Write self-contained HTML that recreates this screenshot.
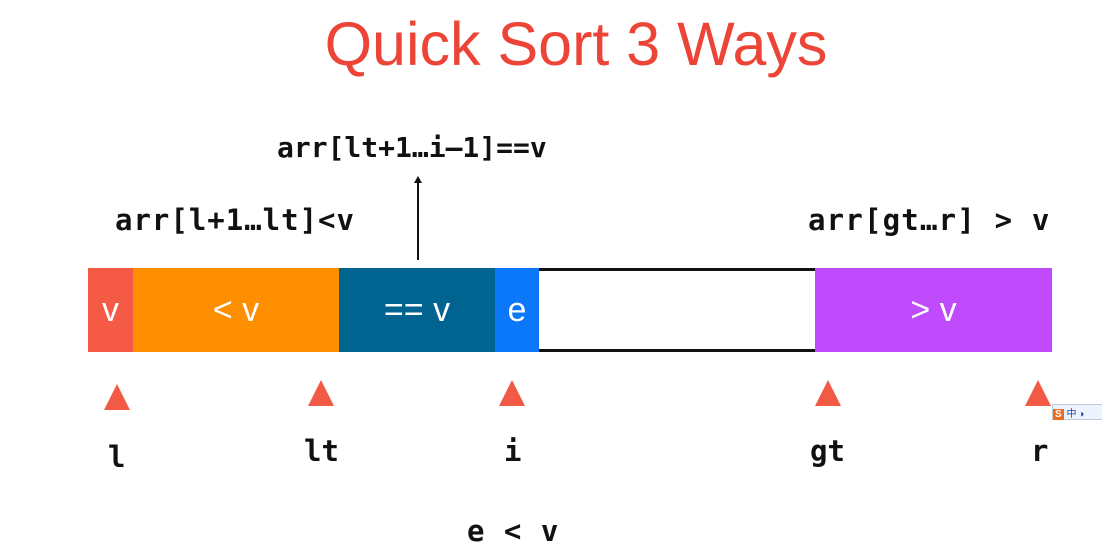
<!DOCTYPE html>
<html><head><meta charset="utf-8"><style>
body{margin:0;width:1102px;height:554px;background:#fff;position:relative;overflow:hidden;font-family:"Liberation Sans",sans-serif}
.a{position:absolute}
.mono{font-family:"DejaVu Sans Mono","Liberation Mono",monospace;font-weight:bold;font-size:29px;color:#111;white-space:nowrap}
.seg{position:absolute;top:268px;height:84px;color:#fff;font-size:34px;display:flex;align-items:center;justify-content:center;font-family:"Liberation Sans",sans-serif}
.tri{position:absolute;top:380px;width:0;height:0;border-left:13px solid transparent;border-right:13px solid transparent;border-bottom:26px solid #f25a45}
</style></head><body>
<div class="a" style="left:0;width:1152px;top:9px;text-align:center;font-size:61px;color:#ec4538">Quick Sort 3 Ways</div>
<div class="a mono" style="left:277px;top:131px;font-size:28px">arr[lt+1…i–1]==v</div>
<div class="a" style="left:417px;top:180px;width:1.5px;height:80px;background:#111"></div>
<div class="a" style="left:414px;top:176px;width:0;height:0;border-left:4px solid transparent;border-right:4px solid transparent;border-bottom:7px solid #111"></div>
<div class="a mono" style="left:115px;top:203px;letter-spacing:1px">arr[l+1…lt]&lt;v</div>
<div class="a mono" style="left:808px;top:203px;letter-spacing:1.2px">arr[gt…r] &gt; v</div>
<div class="seg" style="left:88px;width:45px;background:#f45a45">v</div>
<div class="seg" style="left:133px;width:206px;background:#fd8e00">&lt; v</div>
<div class="seg" style="left:339px;width:156px;background:#01638f">== v</div>
<div class="seg" style="left:495px;width:44px;background:#0a78f8">e</div>
<div class="seg" style="left:539px;width:276px;height:78px;background:#fff;border-top:3px solid #111;border-bottom:3px solid #111"></div>
<div class="seg" style="left:815px;width:237px;background:#c04bfc">&gt; v</div>
<div class="tri" style="left:104px;top:384px"></div>
<div class="tri" style="left:308px"></div>
<div class="tri" style="left:499px"></div>
<div class="tri" style="left:815px"></div>
<div class="tri" style="left:1025px"></div>
<div class="a mono" style="left:108px;top:440px">l</div>
<div class="a mono" style="left:304px;top:434px">lt</div>
<div class="a mono" style="left:504px;top:434px">i</div>
<div class="a mono" style="left:810px;top:434px">gt</div>
<div class="a mono" style="left:1031px;top:434px">r</div>
<div class="a mono" style="left:467px;top:514px;letter-spacing:1px">e &lt; v</div>
<div class="a" style="left:1052px;top:404px;width:50px;height:14px;background:#eef4ff;border:1px solid #bcd;font-size:10px;color:#1a4aa0"><span style="background:#f26b1d;color:#fff;padding:0 2px;font-weight:bold">S</span> 中 ◗</div>
</body></html>
